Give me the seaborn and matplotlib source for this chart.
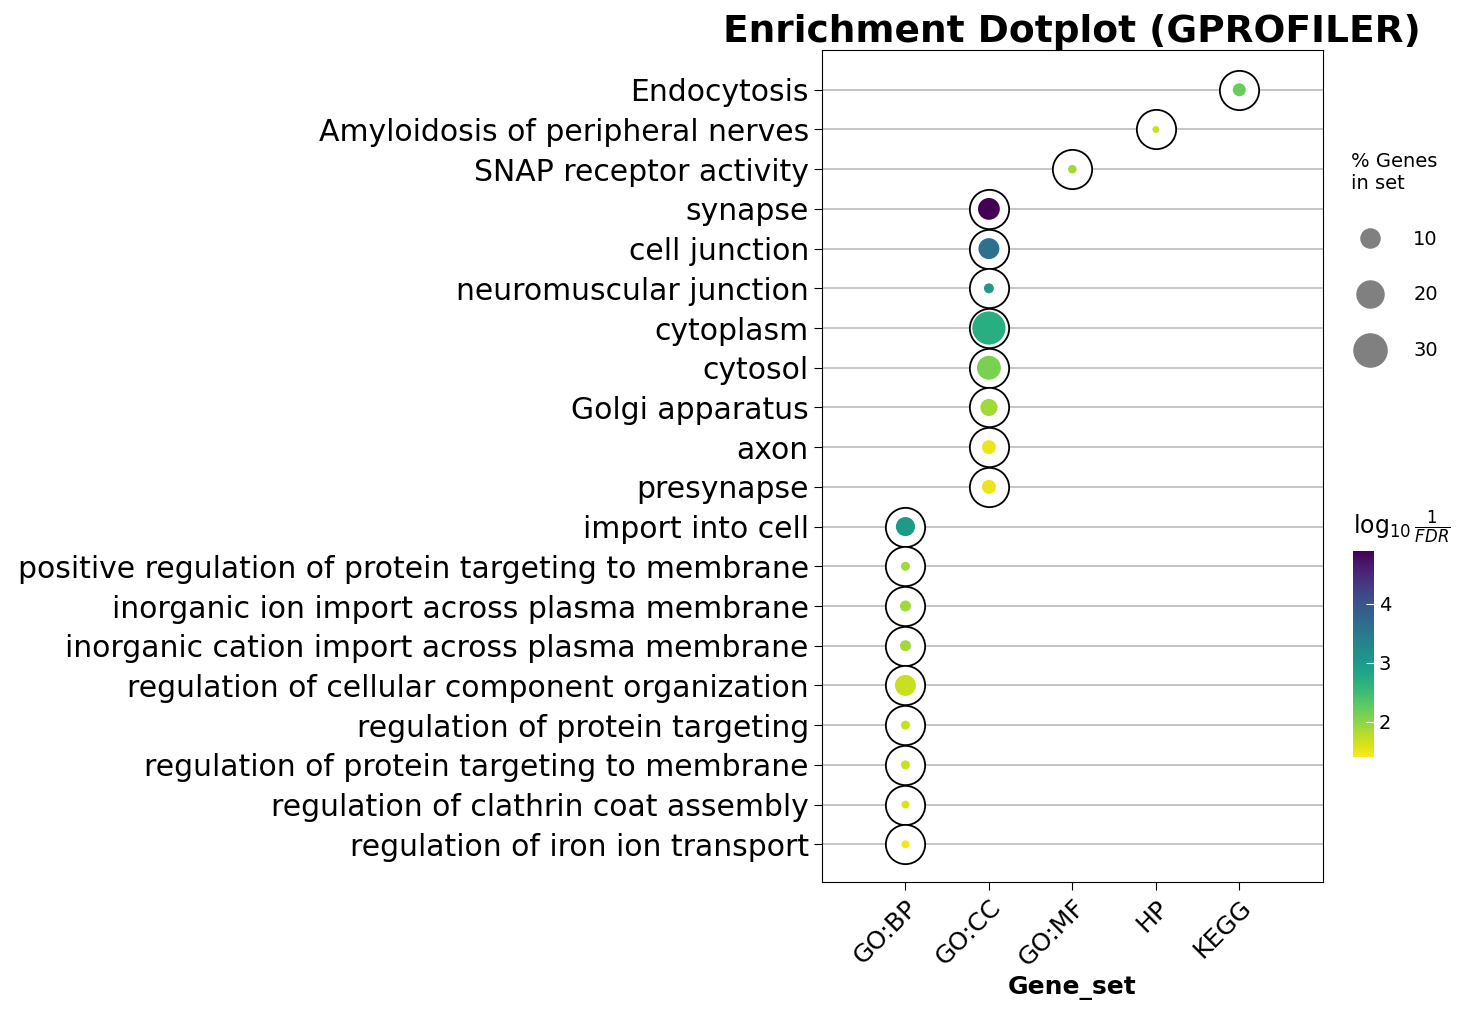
import numpy as np
import pandas as pd
import seaborn as sns
import matplotlib.pyplot as plt
from matplotlib.lines import Line2D

terms = ["Endocytosis", "Amyloidosis of peripheral nerves", "SNAP receptor activity",
         "synapse", "cell junction", "neuromuscular junction", "cytoplasm", "cytosol",
         "Golgi apparatus", "axon", "presynapse", "import into cell",
         "positive regulation of protein targeting to membrane",
         "inorganic ion import across plasma membrane",
         "inorganic cation import across plasma membrane",
         "regulation of cellular component organization",
         "regulation of protein targeting",
         "regulation of protein targeting to membrane",
         "regulation of clathrin coat assembly",
         "regulation of iron ion transport"]
gene_set = ["KEGG", "HP", "GO:MF"] + ["GO:CC"] * 8 + ["GO:BP"] * 9
pct = [4.6, 1.3, 2.0, 13, 12, 2.7, 30, 15.6, 8, 5.3, 5.3, 10, 2.2, 3.3, 3.3, 12, 2.2, 2.2, 1.7, 1.7]
logfdr = [2.2, 1.7, 1.9, 4.9, 3.6, 3.0, 2.7, 2.1, 1.9, 1.5, 1.5, 3.0, 1.9, 1.9, 1.9, 1.7, 1.7, 1.7, 1.6, 1.45]
set_order = ["GO:BP", "GO:CC", "GO:MF", "HP", "KEGG"]

df = pd.DataFrame({"term": terms, "set": gene_set, "pct": pct, "fdr": logfdr})
df["x"] = df["set"].map({s: i for i, s in enumerate(set_order)})
df["y"] = len(terms) - 1 - np.arange(len(terms))

fig = plt.figure(figsize=(14.6, 10.22), dpi=100)
ax = fig.add_axes([0.563, 0.137, 0.343, 0.814])
ax.set_axisbelow(True)
for yy in df["y"]:
    ax.axhline(yy, color="#bbbbbb", lw=1.2, zorder=0)
ax.scatter(df["x"], df["y"], s=800, facecolor="white", edgecolor="black", lw=1.3, zorder=2)
vmin, vmax = 1.4, 4.9
norm = plt.Normalize(vmin, vmax)
sns.scatterplot(data=df, x="x", y="y", hue="fdr", hue_norm=norm, palette="viridis_r",
                size="pct", sizes=(19 * min(pct), 19 * max(pct)), size_norm=(min(pct), max(pct)),
                edgecolor="none", legend=False, ax=ax, zorder=3)
ax.set_xlim(-1, 5)
ax.set_ylim(-0.95, len(terms))
ax.set_xticks(range(len(set_order)))
ax.set_xticklabels(set_order, rotation=45, ha="right", rotation_mode="anchor", fontsize=18)
ax.set_yticks(df["y"])
ax.set_yticklabels(terms, fontsize=21.5)
ax.tick_params(length=6)
ax.set_xlabel("Gene_set", fontsize=18, fontweight="bold")
ax.set_ylabel("")
ax.set_title("Enrichment Dotplot (GPROFILER)", fontsize=27, fontweight="bold", pad=4)

handles = [Line2D([], [], ls="", marker="o", color="gray", markersize=np.sqrt(19 * v)) for v in [10, 20, 30]]
fig.legend(handles, ["10", "20", "30"], title="% Genes\nin set", loc="upper left",
           bbox_to_anchor=(0.916, 0.865), frameon=False, fontsize=14, title_fontsize=14,
           labelspacing=1.9, handletextpad=1.2, alignment="left", borderpad=0.2)

cax = fig.add_axes([0.927, 0.259, 0.014, 0.202])
sm = plt.cm.ScalarMappable(norm=norm, cmap="viridis_r")
cb = fig.colorbar(sm, cax=cax, ticks=[2, 3, 4])
cb.outline.set_visible(False)
cb.ax.tick_params(labelsize=14, color="white", direction="in", length=6)
cax.set_title(r"$\log_{10}\frac{1}{FDR}$", fontsize=17, loc="left", pad=12)

fig.savefig("out.png", dpi=100)
